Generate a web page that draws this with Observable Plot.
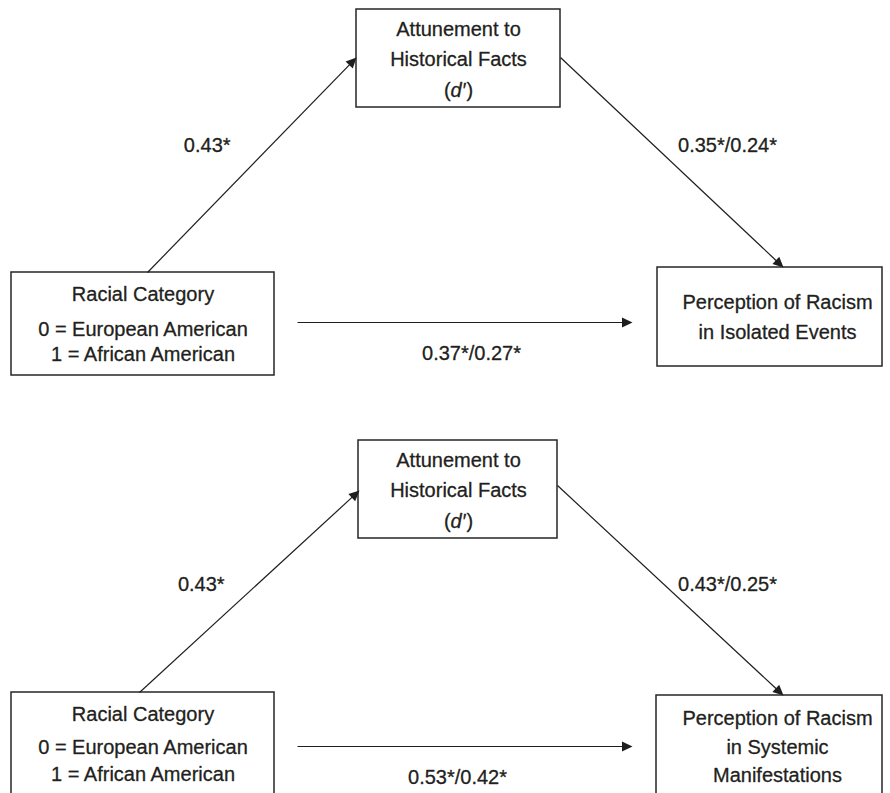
<!DOCTYPE html>
<html>
<head>
<meta charset="utf-8">
<script src="https://cdn.jsdelivr.net/npm/d3@7"></script>
<script src="https://cdn.jsdelivr.net/npm/@observablehq/plot@0.6"></script>
<style>
  html, body { margin: 0; padding: 0; background: #fff; }
  #chart svg { display: block; }
</style>
</head>
<body>
<div id="chart"></div>
<script>
// ---------- data (text content) ----------
const panels = ["Isolated Events", "Systemic Manifestations"];
const predictorLines = ["Racial Category", "0 = European American", "1 = African American"];
const mediatorLines = ["Attunement to", "Historical Facts", "(d\u2032)"];
const italicPart = "d\u2032";
const outcomeLines = [
  ["Perception of Racism", "in Isolated Events"],
  ["Perception of Racism", "in Systemic", "Manifestations"]
];
const pathA = ["0.43*", "0.43*"];
const pathB = ["0.35*/0.24*", "0.43*/0.25*"];
const pathC = ["0.37*/0.27*", "0.53*/0.42*"];

// ---------- layout (positions in pixel space, kept separate) ----------
const layout = [
  {
    predictor: {x1: 11, x2: 274, y1: 272, y2: 375, cx: 142.5, lines: [294.3, 328.6, 354.3]},
    mediator:  {x1: 356, x2: 560, y1: 9, y2: 107, cx: 458, lines: [28.6, 59.3, 90.3]},
    outcome:   {x1: 657, x2: 882, y1: 267, y2: 366, cx: 777, lines: [301.9, 331.9]},
    a: {x1: 147, y1: 272, x2: 356, y2: 57, lx: 206.7, ly: 145.5},
    b: {x1: 560, y1: 57, x2: 783, y2: 267, lx: 727, ly: 145},
    c: {x1: 297, y1: 322, x2: 632, y2: 322, lx: 471, ly: 352.6}
  },
  {
    predictor: {x1: 11, x2: 274, y1: 692, y2: 810, cx: 142.5, lines: [713.6, 746.9, 773.6]},
    mediator:  {x1: 358, x2: 557, y1: 440, y2: 538, cx: 458, lines: [460.3, 490.3, 521.3]},
    outcome:   {x1: 656, x2: 882, y1: 695, y2: 810, cx: 777, lines: [717.9, 746.9, 775.3]},
    a: {x1: 139, y1: 692, x2: 359, y2: 490, lx: 200.8, ly: 584.5},
    b: {x1: 557, y1: 485, x2: 783, y2: 695, lx: 727, ly: 584},
    c: {x1: 297, y1: 746, x2: 632, y2: 746, lx: 457, ly: 776.6}
  }
];

// ---------- build tables ----------
const boxes = [];
const texts = [];
const edges = [];
const heads = [];
const HEAD_LEN = 10.5, HEAD_HALF = 5;

panels.forEach((p, i) => {
  const L = layout[i];
  for (const k of ["predictor", "mediator", "outcome"]) boxes.push({...L[k], node: k, panel: p});
  predictorLines.forEach((t, j) => texts.push({t, x: L.predictor.cx, y: L.predictor.lines[j]}));
  mediatorLines.forEach((t, j) => texts.push({t, x: L.mediator.cx, y: L.mediator.lines[j]}));
  outcomeLines[i].forEach((t, j) => texts.push({t, x: L.outcome.cx, y: L.outcome.lines[j]}));
  const labels = {a: pathA[i], b: pathB[i], c: pathC[i]};
  for (const k of ["a", "b", "c"]) {
    const e = L[k];
    const dx = e.x2 - e.x1, dy = e.y2 - e.y1, len = Math.hypot(dx, dy);
    const ux = dx / len, uy = dy / len;
    const bx = e.x2 - ux * HEAD_LEN, by = e.y2 - uy * HEAD_LEN;
    edges.push({x1: e.x1, y1: e.y1, x2: bx + ux, y2: by + uy});
    const id = p + k;
    heads.push({id, x: e.x2, y: e.y2});
    heads.push({id, x: bx - uy * HEAD_HALF, y: by + ux * HEAD_HALF});
    heads.push({id, x: bx + uy * HEAD_HALF, y: by - ux * HEAD_HALF});
    texts.push({t: labels[k], x: e.lx, y: e.ly});
  }
});

const FONT = "'Liberation Sans', Arial, Helvetica, sans-serif";
const INK = "#231f20";

const chart = Plot.plot({
  width: 890,
  height: 793,
  margin: 0,
  style: {background: "#fff", overflow: "hidden"},
  x: {domain: [0, 890], range: [0, 890], axis: null},
  y: {domain: [0, 793], range: [0, 793], axis: null},
  marks: [
    Plot.rect(boxes, {x1: "x1", x2: "x2", y1: "y1", y2: "y2", fill: "white", stroke: "#262626", strokeWidth: 1.5}),
    Plot.link(edges, {x1: "x1", y1: "y1", x2: "x2", y2: "y2", stroke: "#1e1e1e", strokeWidth: 1.2}),
    Plot.line(heads, {x: "x", y: "y", z: "id", fill: "#1e1e1e", stroke: "none", curve: "linear-closed"}),
    Plot.text(texts, {
      x: "x", y: "y", text: "t", textAnchor: "middle", lineAnchor: "middle",
      fontSize: 20, fontFamily: FONT, fill: INK,
      stroke: INK, strokeWidth: 0.35, strokeOpacity: 0.9
    })
  ]
});

// italicise the d′ inside "(d′)" as a tspan of the same text element
d3.select(chart).selectAll("text")
  .filter(function () { return this.textContent === mediatorLines[2]; })
  .each(function () {
    const el = d3.select(this);
    el.text(null);
    el.append("tspan").text("(");
    el.append("tspan").attr("font-style", "italic").text(italicPart);
    el.append("tspan").attr("dx", "1").text(")");
  });

document.getElementById("chart").appendChild(chart);
</script>
</body>
</html>
